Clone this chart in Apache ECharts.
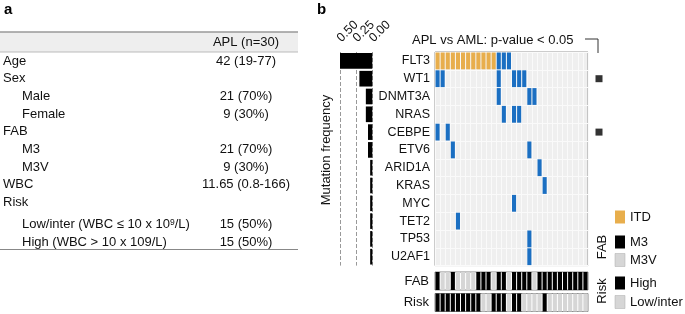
<!DOCTYPE html>
<html>
<head>
<meta charset="utf-8">
<script src="https://cdn.jsdelivr.net/npm/echarts@6/dist/echarts.min.js"></script>
<style>
  html, body { margin: 0; padding: 0; background: #fff; }
  #chart { width: 685px; height: 314px; }
</style>
</head>
<body>
<div id="chart"></div>
<script>
// ---- data ----
const genes = ['FLT3', 'WT1', 'DNMT3A', 'NRAS', 'CEBPE', 'ETV6', 'ARID1A', 'KRAS', 'MYC', 'TET2', 'TP53', 'U2AF1'];
const mutFreq = [0.50, 0.20, 0.10, 0.10, 0.067, 0.067, 0.033, 0.033, 0.033, 0.033, 0.033, 0.033];
const freqTicks = [0.50, 0.25, 0.00];
const patients = ['P01','P02','P03','P04','P05','P06','P07','P08','P09','P10','P11','P12','P13','P14','P15',
                  'P16','P17','P18','P19','P20','P21','P22','P23','P24','P25','P26','P27','P28','P29','P30'];
// FLT3-ITD patients (column index)
const flt3Itd = [0, 1, 2, 3, 4, 5, 6, 7, 8, 9, 10, 11];
// other mutations, one list of patient columns per gene (same order as genes)
const mutPatients = [
  [12, 13, 14],
  [0, 1, 12, 15, 16, 17],
  [12, 18, 19],
  [13, 15, 16],
  [0, 2],
  [3, 18],
  [20],
  [21],
  [15],
  [4],
  [18],
  [18]
];
const fabGroup = ['M3','M3V','M3V','M3','M3V','M3V','M3V','M3V','M3','M3','M3','M3V','M3','M3','M3V',
                  'M3','M3','M3','M3','M3V','M3','M3','M3','M3','M3','M3','M3','M3','M3','M3'];
const riskGroup = ['High','High','High','High','High','High','High','High','High','Low','Low','High','High','High','Low',
                   'High','High','Low','Low','Low','Low','High','Low','Low','Low','Low','Low','Low','Low','Low'];
const sigGenes = ['WT1', 'CEBPE'];

const tableHeader = 'APL (n=30)';
const tableLabels = ['Age', 'Sex', 'Male', 'Female', 'FAB', 'M3', 'M3V', 'WBC', 'Risk',
                     'Low/inter (WBC ≤ 10 x 10{sup|9}/L)', 'High (WBC > 10 x 109/L)'];
const tableValues = ['42 (19-77)', '', '21 (70%)', '9 (30%)', '', '21 (70%)', '9 (30%)', '11.65 (0.8-166)', '',
                     '15 (50%)', '15 (50%)'];
const tableIndent = [0, 0, 1, 1, 0, 1, 1, 0, 0, 1, 1];

// ---- style ----
const FONT = "'Liberation Sans', Arial, sans-serif";
const ORANGE = '#e8ae4c';
const BLUE = '#1b6fc2';
const LIGHT = '#d6d6d6';
const TOP = 52, ROWS_H = 213.6;
const ONCO_L = 435, ONCO_W = 153;

const mutData = [];
flt3Itd.forEach(p => mutData.push([p, 0, 1]));
mutPatients.forEach((list, g) => list.forEach(p => mutData.push([p, g, 2])));

function renderMut(params, api) {
  const c = api.coord([api.value(0), api.value(1)]);
  const s = api.size([1, 1]);
  const itd = api.value(2) === 1;
  const w = itd ? s[0] - 1 : s[0] * 0.8;
  const h = s[1] - 1;
  return {
    type: 'rect',
    shape: { x: c[0] - w / 2, y: c[1] - h / 2, width: w, height: h },
    style: { fill: itd ? ORANGE : BLUE }
  };
}

function renderTrack(params, api) {
  const c = api.coord([api.value(0), 0]);
  const s = api.size([1, 1]);
  const w = s[0] - 1;
  return {
    type: 'rect',
    shape: { x: c[0] - w / 2, y: c[1] - s[1] / 2, width: w, height: s[1] },
    style: { fill: api.value(1) === 1 ? '#000' : LIGHT }
  };
}

// table drawing
const tableGraphics = [
  { type: 'rect', shape: { x: 0, y: 32, width: 298, height: 20 }, style: { fill: '#eeeeee' } },
  { type: 'line', shape: { x1: 0, y1: 32, x2: 298, y2: 32 }, style: { stroke: '#999', lineWidth: 1.5 } },
  { type: 'line', shape: { x1: 0, y1: 52, x2: 298, y2: 52 }, style: { stroke: '#bbb', lineWidth: 1 } },
  { type: 'line', shape: { x1: 0, y1: 249.5, x2: 298, y2: 249.5 }, style: { stroke: '#888', lineWidth: 1 } },
  { type: 'text', style: { text: tableHeader, x: 246, y: 42, font: '13px ' + FONT, fill: '#111',
      textAlign: 'center', textVerticalAlign: 'middle' } }
];
tableLabels.forEach((lab, i) => {
  const y = 61 + i * 17.7 + (i >= 9 ? 4.5 : 0);
  tableGraphics.push({
    type: 'text',
    style: { text: lab, x: tableIndent[i] ? 22 : 3, y: y, font: '13px ' + FONT, fill: '#111',
      textVerticalAlign: 'middle', rich: { sup: { fontSize: 8.5, verticalAlign: 'top', fontFamily: FONT } } }
  });
  if (tableValues[i]) {
    tableGraphics.push({
      type: 'text',
      style: { text: tableValues[i], x: 246, y: y, font: '13px ' + FONT, fill: '#111',
        textAlign: 'center', textVerticalAlign: 'middle' }
    });
  }
});

// legend + decorations
const legendItems = [
  { label: 'ITD', color: ORANGE, y: 217 },
  { label: 'M3', color: '#000', y: 242 },
  { label: 'M3V', color: LIGHT, y: 260 },
  { label: 'High', color: '#000', y: 283 },
  { label: 'Low/inter', color: LIGHT, y: 302 }
];
const legendGraphics = [];
legendItems.forEach(it => {
  legendGraphics.push({ type: 'rect', shape: { x: 615, y: it.y - 6.5, width: 10, height: 13 },
    style: { fill: it.color, stroke: it.color === LIGHT ? '#aaa' : null, lineWidth: 0.5 } });
  legendGraphics.push({ type: 'text', style: { text: it.label, x: 630, y: it.y, font: '13px ' + FONT,
    fill: '#111', textVerticalAlign: 'middle' } });
});
legendGraphics.push(
  { type: 'text', rotation: Math.PI / 2, x: 602, y: 247,
    style: { text: 'FAB', font: '13px ' + FONT, fill: '#111', textAlign: 'center', textVerticalAlign: 'middle' } },
  { type: 'text', rotation: Math.PI / 2, x: 602, y: 291,
    style: { text: 'Risk', font: '13px ' + FONT, fill: '#111', textAlign: 'center', textVerticalAlign: 'middle' } }
);

const otherGraphics = [
  { type: 'text', style: { text: 'a', x: 4, y: 10, font: 'bold 15px ' + FONT, fill: '#000', textVerticalAlign: 'middle' } },
  { type: 'text', style: { text: 'b', x: 317, y: 10, font: 'bold 15px ' + FONT, fill: '#000', textVerticalAlign: 'middle' } },
  { type: 'text', style: { text: 'APL vs AML: p-value < 0.05', x: 412, y: 40, font: '13px ' + FONT, fill: '#111',
      textVerticalAlign: 'middle' } },
  { type: 'polyline', shape: { points: [[585, 39], [598, 39], [598, 53]] }, style: { stroke: '#333', lineWidth: 1, fill: null } },
  { type: 'text', rotation: Math.PI / 2, x: 326, y: 150,
    style: { text: 'Mutation frequency', font: '13px ' + FONT, fill: '#111', textAlign: 'center', textVerticalAlign: 'middle' } }
];

const hidden = { axisLine: { show: false }, axisTick: { show: false }, axisLabel: { show: false } };

const chart = echarts.init(document.getElementById('chart'));
chart.setOption({
  animation: false,
  textStyle: { fontFamily: FONT },
  grid: [
    { left: 340, top: TOP, width: 32.3, height: ROWS_H },
    { left: ONCO_L, top: TOP, width: ONCO_W, height: ROWS_H, show: true, backgroundColor: '#efefef',
      borderColor: '#999', borderWidth: 1 },
    { left: ONCO_L, top: 272, width: ONCO_W, height: 18, show: true, backgroundColor: '#fff',
      borderColor: '#888', borderWidth: 1 },
    { left: ONCO_L, top: 293.5, width: ONCO_W, height: 18, show: true, backgroundColor: '#fff',
      borderColor: '#888', borderWidth: 1 },
    { left: 594, top: TOP, width: 10, height: ROWS_H }
  ],
  xAxis: [
    { type: 'value', gridIndex: 0, min: 0, max: 0.5, interval: 0.25, inverse: true, position: 'top',
      axisLine: { show: false }, axisTick: { show: false }, axisLabel: { show: false },
      splitLine: { show: true, lineStyle: { type: 'dashed', color: '#999', width: 1 } } },
    { type: 'category', gridIndex: 1, data: patients, ...hidden,
      splitLine: { show: true, interval: 0, lineStyle: { color: '#fafafa', width: 1 } } },
    { type: 'category', gridIndex: 2, data: patients, ...hidden },
    { type: 'category', gridIndex: 3, data: patients, ...hidden },
    { type: 'category', gridIndex: 4, data: ['sig'], ...hidden }
  ],
  yAxis: [
    { type: 'category', gridIndex: 0, data: genes, inverse: true, show: false },
    { type: 'category', gridIndex: 1, data: genes, inverse: true,
      axisLine: { show: false }, axisTick: { show: false },
      axisLabel: { fontSize: 12.5, color: '#111', margin: 5 },
      splitLine: { show: true, interval: 0, lineStyle: { color: '#fafafa', width: 1 } } },
    { type: 'category', gridIndex: 2, data: ['FAB'], axisLine: { show: false }, axisTick: { show: false },
      axisLabel: { fontSize: 13, color: '#111', margin: 6 } },
    { type: 'category', gridIndex: 3, data: ['Risk'], axisLine: { show: false }, axisTick: { show: false },
      axisLabel: { fontSize: 13, color: '#111', margin: 6 } },
    { type: 'category', gridIndex: 4, data: genes, inverse: true, show: false }
  ],
  series: [
    { type: 'bar', xAxisIndex: 0, yAxisIndex: 0, data: mutFreq, barWidth: '88%',
      itemStyle: { color: '#000' } },
    { type: 'custom', xAxisIndex: 1, yAxisIndex: 1, data: mutData, renderItem: renderMut },
    { type: 'custom', xAxisIndex: 2, yAxisIndex: 2, renderItem: renderTrack,
      data: fabGroup.map((g, i) => [i, g === 'M3' ? 1 : 0]) },
    { type: 'custom', xAxisIndex: 3, yAxisIndex: 3, renderItem: renderTrack,
      data: riskGroup.map((g, i) => [i, g === 'High' ? 1 : 0]) },
    { type: 'scatter', xAxisIndex: 4, yAxisIndex: 4, symbol: 'rect', symbolSize: 7,
      itemStyle: { color: '#000' }, data: sigGenes.map(g => ['sig', g]) }
  ],
  graphic: [...tableGraphics, ...legendGraphics, ...otherGraphics]
});

// rotated frequency tick labels, placed through the axis scale (avoids auto overlap hiding)
const tickLabels = freqTicks.map(v => {
  const px = chart.convertToPixel({ xAxisIndex: 0 }, v);
  return {
    type: 'text', rotation: Math.PI / 4, x: px - 1, y: TOP - 12,
    style: { text: v.toFixed(2), font: '12.5px ' + FONT, fill: '#111', textAlign: 'left', textVerticalAlign: 'middle' }
  };
});
chart.setOption({ graphic: [...tableGraphics, ...legendGraphics, ...otherGraphics, ...tickLabels] });
</script>
</body>
</html>
